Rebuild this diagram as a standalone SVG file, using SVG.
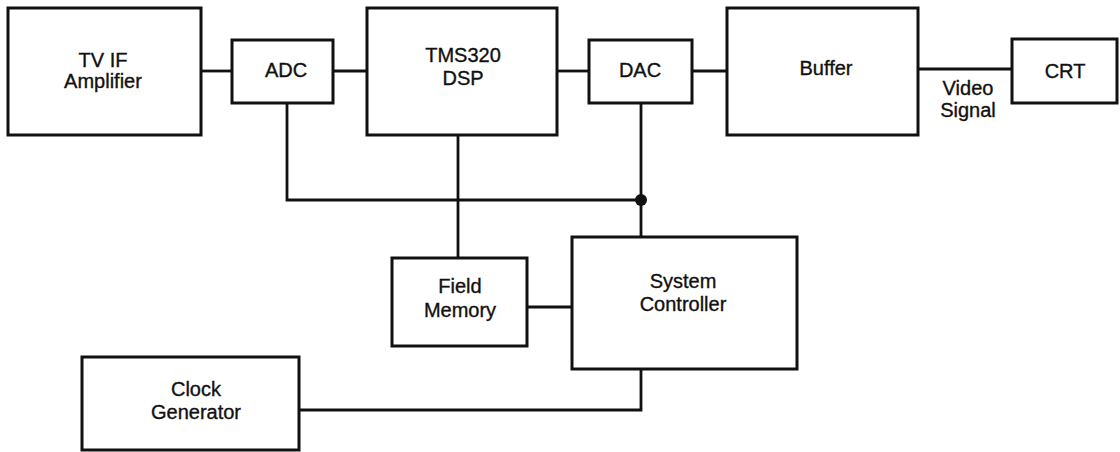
<svg xmlns="http://www.w3.org/2000/svg" width="1120" height="452" viewBox="0 0 1120 452">
<style>
.box{fill:#fff;stroke:#111;stroke-width:3}
.lbl{font-family:"Liberation Sans",Arial,sans-serif;font-size:20px;fill:#111;stroke:#111;stroke-width:0.35;text-anchor:middle}
.wire{fill:none;stroke:#111;stroke-width:2.8}
</style>
<rect width="1120" height="452" fill="#fff"/>
<g id="connectors">
<line class="wire" x1="201" y1="71" x2="232" y2="71"/>
<line class="wire" x1="333" y1="71" x2="367" y2="71"/>
<line class="wire" x1="557" y1="71" x2="589" y2="71"/>
<line class="wire" x1="692" y1="71" x2="727" y2="71"/>
<line class="wire" x1="918" y1="69" x2="1012" y2="69"/>
<polyline class="wire" points="287,103 287,200 641,200"/>
<line class="wire" x1="458" y1="135" x2="458" y2="258"/>
<line class="wire" x1="641" y1="103" x2="641" y2="237"/>
<circle cx="641" cy="200" r="6" fill="#111"/>
<line class="wire" x1="527" y1="307" x2="572" y2="307"/>
<polyline class="wire" points="641,369 641,410 299,410"/>
<text class="lbl" x="968" y="95">Video</text>
<text class="lbl" x="968" y="117">Signal</text>
</g>
<g id="tvif"><rect class="box" x="8" y="8" width="193" height="127"/><text class="lbl" x="103" y="67">TV IF</text><text class="lbl" x="103" y="88">Amplifier</text></g>
<g id="adc"><rect class="box" x="232" y="40" width="101" height="63"/><text class="lbl" x="286" y="77">ADC</text></g>
<g id="dsp"><rect class="box" x="367" y="8" width="190" height="127"/><text class="lbl" x="463" y="62">TMS320</text><text class="lbl" x="463" y="85">DSP</text></g>
<g id="dac"><rect class="box" x="589" y="40" width="103" height="63"/><text class="lbl" x="640" y="77">DAC</text></g>
<g id="buffer"><rect class="box" x="727" y="8" width="191" height="127"/><text class="lbl" x="826" y="75">Buffer</text></g>
<g id="crt"><rect class="box" x="1012" y="39" width="105" height="64"/><text class="lbl" x="1065" y="78">CRT</text></g>
<g id="fieldmem"><rect class="box" x="392" y="258" width="135" height="88"/><text class="lbl" x="460" y="293">Field</text><text class="lbl" x="460" y="317">Memory</text></g>
<g id="sysctrl"><rect class="box" x="572" y="237" width="225" height="132"/><text class="lbl" x="683" y="288">System</text><text class="lbl" x="683" y="311">Controller</text></g>
<g id="clock"><rect class="box" x="82" y="357" width="217" height="93"/><text class="lbl" x="196" y="396">Clock</text><text class="lbl" x="196" y="419">Generator</text></g>
</svg>
